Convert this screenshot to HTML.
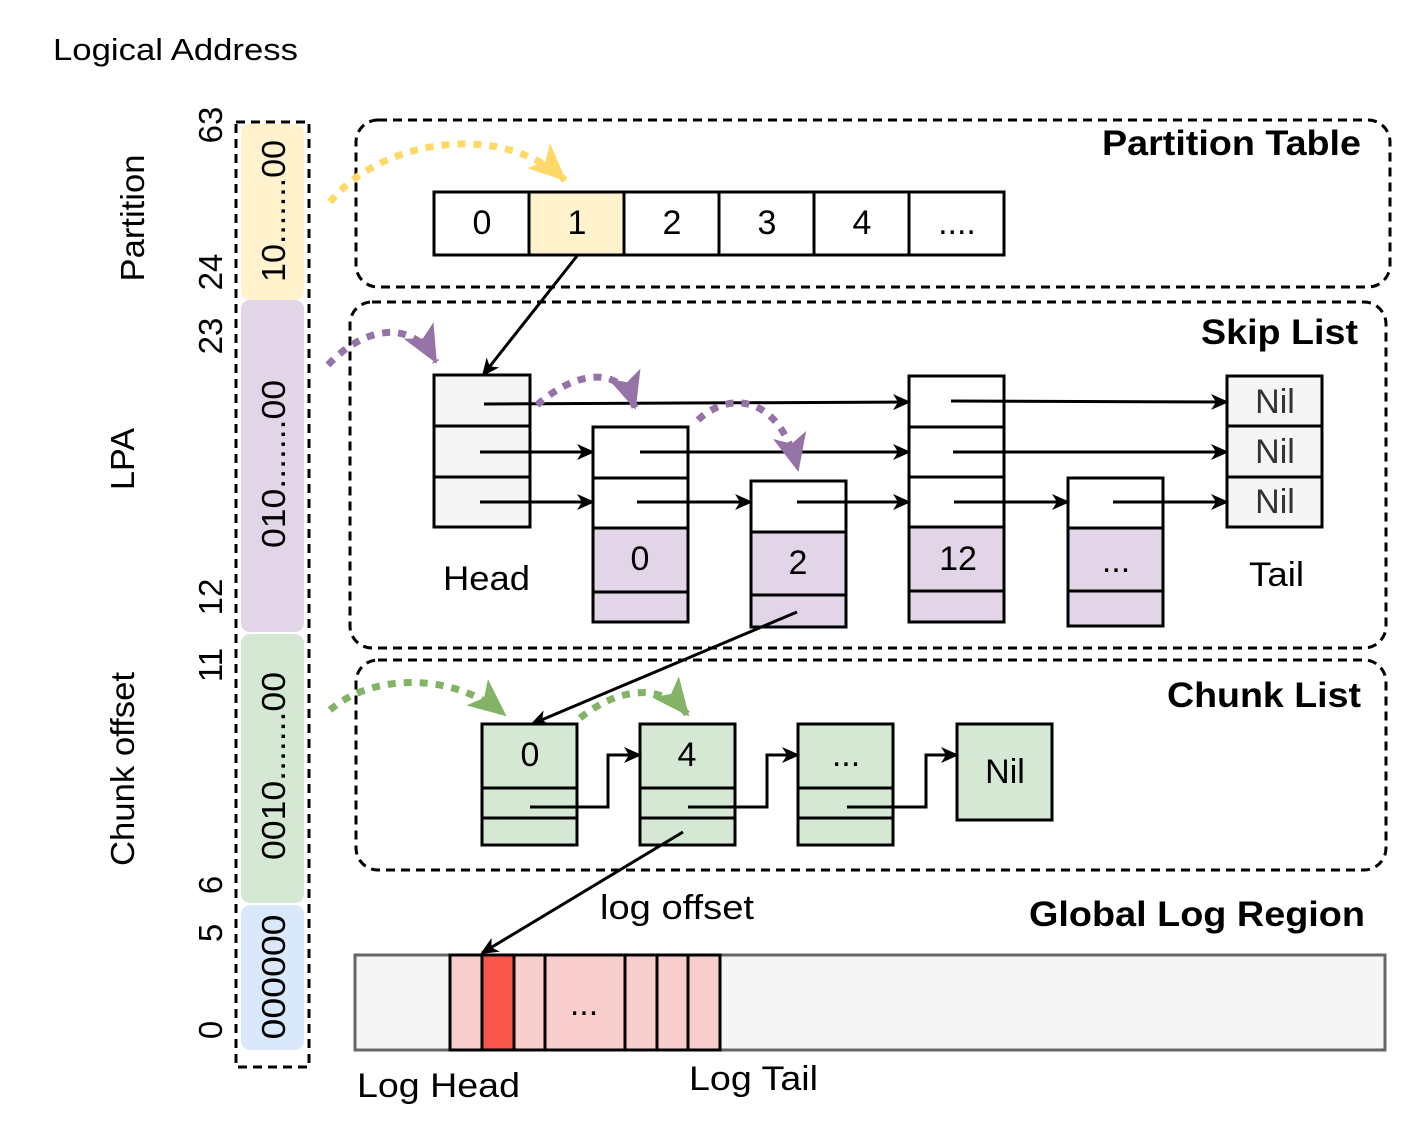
<!DOCTYPE html>
<html><head><meta charset="utf-8"><style>
html,body{margin:0;padding:0;background:#fff;}
svg text{font-family:"Liberation Sans",Arial,sans-serif;}
</style></head><body>
<svg width="1411" height="1138" viewBox="0 0 1411 1138" xmlns="http://www.w3.org/2000/svg">
<defs>
<marker id="ab" markerWidth="20" markerHeight="20" refX="16" refY="8" orient="auto" markerUnits="userSpaceOnUse" viewBox="0 0 20 16">
<path d="M0,0 L18,8 L0,16 L5,8 Z" fill="#000"/></marker>
<marker id="ay" markerWidth="40" markerHeight="36" refX="36" refY="17" orient="auto" markerUnits="userSpaceOnUse" viewBox="0 0 40 34">
<path d="M0,0 L38,17 L0,34 L9,17 Z" fill="#ffd966"/></marker>
<marker id="ap" markerWidth="40" markerHeight="36" refX="36" refY="17" orient="auto" markerUnits="userSpaceOnUse" viewBox="0 0 40 34">
<path d="M0,0 L38,17 L0,34 L9,17 Z" fill="#9673a6"/></marker>
<marker id="ag" markerWidth="40" markerHeight="36" refX="36" refY="17" orient="auto" markerUnits="userSpaceOnUse" viewBox="0 0 40 34">
<path d="M0,0 L38,17 L0,34 L9,17 Z" fill="#82b366"/></marker>
</defs>

<text x="53" y="60" font-size="31" textLength="245" lengthAdjust="spacingAndGlyphs">Logical Address</text>

<!-- left column -->
<rect x="236" y="122" width="73" height="945" fill="none" stroke="#000" stroke-width="3" stroke-dasharray="9 6"/>
<rect x="241" y="124" width="63" height="176" rx="9" fill="#fff2cc"/>
<rect x="241" y="300" width="63" height="332" rx="9" fill="#e1d5e7"/>
<rect x="241" y="634" width="63" height="269" rx="9" fill="#d5e8d4"/>
<rect x="241" y="905" width="63" height="145" rx="9" fill="#dae8fc"/>
<g font-size="33" text-anchor="middle" lengthAdjust="spacingAndGlyphs">
<text transform="translate(285,211) rotate(-90)" textLength="142" lengthAdjust="spacingAndGlyphs">10.......00</text>
<text transform="translate(285,464) rotate(-90)" textLength="168" lengthAdjust="spacingAndGlyphs">010.......00</text>
<text transform="translate(285,766) rotate(-90)" textLength="188" lengthAdjust="spacingAndGlyphs">0010.......00</text>
<text transform="translate(285,977) rotate(-90)" textLength="125" lengthAdjust="spacingAndGlyphs">000000</text>
<text transform="translate(222,125) rotate(-90)">63</text>
<text transform="translate(222,272) rotate(-90)">24</text>
<text transform="translate(222,336) rotate(-90)">23</text>
<text transform="translate(222,597) rotate(-90)">12</text>
<text transform="translate(222,665) rotate(-90)">11</text>
<text transform="translate(222,885) rotate(-90)">6</text>
<text transform="translate(222,933) rotate(-90)">5</text>
<text transform="translate(222,1030) rotate(-90)">0</text>
<text transform="translate(144,218) rotate(-90)" textLength="127" lengthAdjust="spacingAndGlyphs">Partition</text>
<text transform="translate(134,459) rotate(-90)" textLength="62" lengthAdjust="spacingAndGlyphs">LPA</text>
<text transform="translate(134,769) rotate(-90)" textLength="194" lengthAdjust="spacingAndGlyphs">Chunk offset</text>
</g>

<!-- group boxes -->
<g fill="none" stroke="#000" stroke-width="3" stroke-dasharray="9 6">
<rect x="356" y="120" width="1034" height="167" rx="22"/>
<rect x="350" y="302" width="1036" height="346" rx="22"/>
<rect x="356" y="660" width="1030" height="210" rx="22"/>
</g>
<g font-size="35" font-weight="bold">
<text x="1102" y="155" textLength="259" lengthAdjust="spacingAndGlyphs">Partition Table</text>
<text x="1201" y="344" textLength="157" lengthAdjust="spacingAndGlyphs">Skip List</text>
<text x="1167" y="707" textLength="194" lengthAdjust="spacingAndGlyphs">Chunk List</text>
<text x="1029" y="926" textLength="336" lengthAdjust="spacingAndGlyphs">Global Log Region</text>
</g>

<!-- partition table cells -->
<g stroke="#000" stroke-width="3">
<rect x="434" y="192" width="95" height="63" fill="#fff"/>
<rect x="529" y="192" width="95" height="63" fill="#fff2cc"/>
<rect x="624" y="192" width="95" height="63" fill="#fff"/>
<rect x="719" y="192" width="95" height="63" fill="#fff"/>
<rect x="814" y="192" width="95" height="63" fill="#fff"/>
<rect x="909" y="192" width="95" height="63" fill="#fff"/>
</g>
<g font-size="34" text-anchor="middle">
<text x="482" y="234">0</text><text x="577" y="234">1</text><text x="672" y="234">2</text>
<text x="767" y="234">3</text><text x="862" y="234">4</text><text x="957" y="234">....</text>
</g>

<!-- skip list nodes -->
<g stroke="#000" stroke-width="3">
<rect x="434" y="375" width="96" height="51" fill="#f5f5f5"/>
<rect x="434" y="426" width="96" height="51" fill="#f5f5f5"/>
<rect x="434" y="477" width="96" height="50" fill="#f5f5f5"/>

<rect x="593" y="427" width="95" height="51" fill="#fff"/>
<rect x="593" y="478" width="95" height="50" fill="#fff"/>
<rect x="593" y="528" width="95" height="64" fill="#e1d5e7"/>
<rect x="593" y="592" width="95" height="30" fill="#e1d5e7"/>

<rect x="751" y="481" width="95" height="51" fill="#fff"/>
<rect x="751" y="532" width="95" height="63" fill="#e1d5e7"/>
<rect x="751" y="595" width="95" height="32" fill="#e1d5e7"/>

<rect x="909" y="376" width="95" height="51" fill="#fff"/>
<rect x="909" y="427" width="95" height="50" fill="#fff"/>
<rect x="909" y="477" width="95" height="50" fill="#fff"/>
<rect x="909" y="527" width="95" height="64" fill="#e1d5e7"/>
<rect x="909" y="591" width="95" height="31" fill="#e1d5e7"/>

<rect x="1068" y="478" width="95" height="50" fill="#fff"/>
<rect x="1068" y="528" width="95" height="63" fill="#e1d5e7"/>
<rect x="1068" y="591" width="95" height="35" fill="#e1d5e7"/>

<rect x="1227" y="376" width="95" height="50" fill="#f5f5f5"/>
<rect x="1227" y="426" width="95" height="51" fill="#f5f5f5"/>
<rect x="1227" y="477" width="95" height="50" fill="#f5f5f5"/>
</g>
<g font-size="34" text-anchor="middle">
<text x="640" y="570">0</text><text x="798" y="574">2</text><text x="958" y="570">12</text><text x="1116" y="572">...</text>
<text x="1275" y="413" fill="#333">Nil</text><text x="1275" y="463" fill="#333">Nil</text><text x="1275" y="513" fill="#333">Nil</text>
</g>
<g font-size="34">
<text x="443" y="590" textLength="87" lengthAdjust="spacingAndGlyphs">Head</text>
<text x="1249" y="586" textLength="55" lengthAdjust="spacingAndGlyphs">Tail</text>
</g>

<!-- chunk list nodes -->
<g stroke="#000" stroke-width="3" fill="#d5e8d4">
<rect x="482" y="724" width="95" height="64"/><rect x="482" y="788" width="95" height="30"/><rect x="482" y="818" width="95" height="27"/>
<rect x="640" y="724" width="95" height="64"/><rect x="640" y="788" width="95" height="30"/><rect x="640" y="818" width="95" height="27"/>
<rect x="798" y="724" width="95" height="64"/><rect x="798" y="788" width="95" height="30"/><rect x="798" y="818" width="95" height="27"/>
<rect x="957" y="724" width="95" height="96"/>
</g>
<g font-size="34" text-anchor="middle">
<text x="530" y="766">0</text><text x="687" y="766">4</text><text x="846" y="766">...</text><text x="1005" y="783">Nil</text>
</g>

<!-- global log -->
<rect x="355" y="955" width="1030" height="95" fill="#f5f5f5" stroke="#666" stroke-width="3"/>
<g stroke="#000" stroke-width="3" fill="#f8cecc">
<rect x="450" y="955" width="32" height="95"/>
<rect x="482" y="955" width="32" height="95" fill="#f8564a"/>
<rect x="514" y="955" width="31" height="95"/>
<rect x="545" y="955" width="80" height="95"/>
<rect x="625" y="955" width="32" height="95"/>
<rect x="657" y="955" width="31" height="95"/>
<rect x="688" y="955" width="32" height="95"/>
</g>
<g font-size="34">
<text x="584" y="1015" text-anchor="middle">...</text>
<text x="600" y="919" textLength="154" lengthAdjust="spacingAndGlyphs">log offset</text>
<text x="357" y="1097" textLength="163" lengthAdjust="spacingAndGlyphs">Log Head</text>
<text x="689" y="1090" textLength="129" lengthAdjust="spacingAndGlyphs">Log Tail</text>
</g>

<!-- connectors -->
<g stroke="#000" stroke-width="3" fill="none" marker-end="url(#ab)">
<line x1="484" y1="404" x2="909" y2="402"/>
<line x1="480" y1="452" x2="593" y2="452"/>
<line x1="480" y1="502" x2="593" y2="502"/>
<line x1="640" y1="452" x2="909" y2="452"/>
<line x1="637" y1="502" x2="751" y2="502"/>
<line x1="797" y1="502" x2="909" y2="502"/>
<line x1="951" y1="401" x2="1227" y2="402"/>
<line x1="953" y1="452" x2="1227" y2="452"/>
<line x1="954" y1="502" x2="1068" y2="502"/>
<line x1="1113" y1="502" x2="1227" y2="502"/>
<line x1="577" y1="256" x2="483" y2="375"/>
<line x1="797" y1="612" x2="532" y2="724"/>
<line x1="683" y1="832" x2="482" y2="953"/>
<polyline points="530,807 608,807 608,755 640,755"/>
<polyline points="688,807 767,807 767,755 798,755"/>
<polyline points="847,807 926,807 926,755 957,755"/>
</g>

<!-- dotted curved arrows -->
<g fill="none" stroke-width="7" stroke-dasharray="8 8">
<path d="M330,202 C380,140 500,120 565,180" stroke="#ffd966" marker-end="url(#ay)"/>
<path d="M328,365 C360,330 410,315 436,362" stroke="#9673a6" marker-end="url(#ap)"/>
<path d="M537,405 C570,375 620,360 635,408" stroke="#9673a6" marker-end="url(#ap)"/>
<path d="M698,420 C730,390 780,395 798,470" stroke="#9673a6" marker-end="url(#ap)"/>
<path d="M330,710 C370,675 450,670 505,715" stroke="#82b366" marker-end="url(#ag)"/>
<path d="M580,718 C615,690 660,680 688,715" stroke="#82b366" marker-end="url(#ag)"/>
</g>
</svg>
</body></html>
